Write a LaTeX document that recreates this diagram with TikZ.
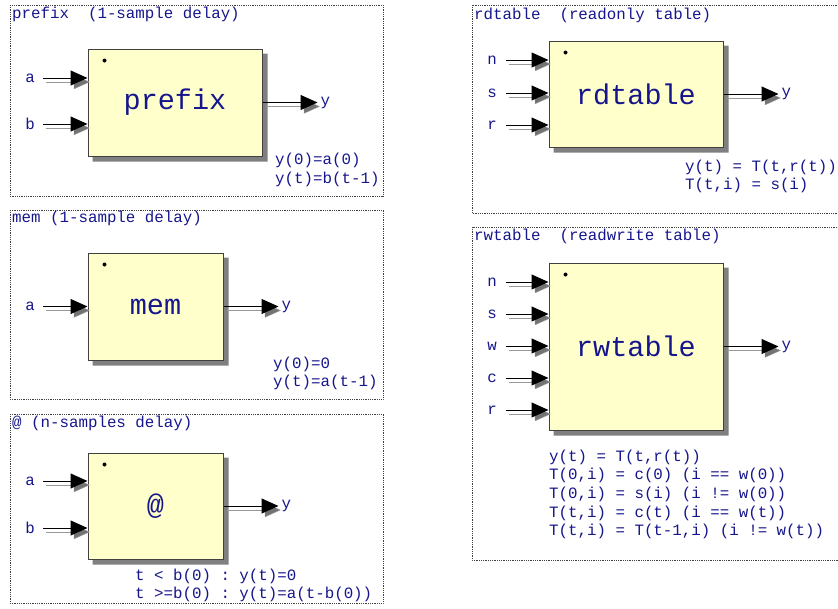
\documentclass[tikz,border=0pt]{standalone}
\usepackage{fontspec}
\setmonofont{Liberation Mono}
\usetikzlibrary{positioning,arrows.meta}
\definecolor{ink}{RGB}{22,22,140}
\definecolor{boxfill}{RGB}{255,255,204}
\tikzset{
	frame/.style={draw=black!75, densely dotted, line width=0.8pt},
	blk/.style={draw=black!75, line width=1pt, fill=boxfill, text=ink, font=\fontsize{28.5}{30}\ttfamily},
	boxshade/.style={fill=gray},
	txt/.style={font=\fontsize{15.8}{18.7}\ttfamily, text=ink, inner sep=0pt, anchor=west, align=left},
	lbl/.style={txt, anchor=center},
	sig/.style={line width=1pt, -{Triangle[length=17pt,width=15pt]},
		preaction={draw=black!40, -{Triangle[length=17pt,width=15pt,fill=black!55]}, transform canvas={shift={(3pt,-4pt)}}}},
	pin/.style={fill=black, circle, inner sep=0pt, minimum size=4pt},
}
\begin{document}
\begin{tikzpicture}[x=1pt, y=-1pt]
	\useasboundingbox (0,0) rectangle (838,608);

	% prefix
	\draw[frame] (10,5) rectangle (383,196);
	\node[txt] (t1) at (12,14) {prefix~~(1-sample delay)};
	\node[blk, minimum width=174pt, minimum height=107pt] (b1) at (175,102.5) {prefix};
	\fill[boxshade] ([shift={(0.5pt,-5pt)}]b1.north east) -| ([shift={(5pt,-5pt)}]b1.south east) -| ([shift={(5pt,-0.5pt)}]b1.south west) -- ([shift={(0.5pt,-0.5pt)}]b1.south east) -- cycle;
	\node[pin] (d1) at ([xshift=17pt,yshift=-12pt]b1.north west) {};
	\node[lbl] (a1) at (30,78) {a};
	\node[lbl] (c1) at (30,124) {b};
	\foreach \i in {a1,c1}
		\draw[sig] ([xshift=8pt]\i.east) -- (\i -| b1.west);
	\node[lbl, right=58pt of b1] (y1) {y};
	\draw[sig] (b1.east) -- ([xshift=-3pt]y1.west);
	\node[txt] (e1) at (275,170) {y(0)=a(0)\\y(t)=b(t-1)};

	% mem
	\draw[frame] (10,210) rectangle (383,399);
	\node[txt] (t2) at (12,218) {mem (1-sample delay)};
	\node[blk, minimum width=135pt, minimum height=107pt] (b2) at (155.5,306.5) {mem};
	\fill[boxshade] ([shift={(0.5pt,-5pt)}]b2.north east) -| ([shift={(5pt,-5pt)}]b2.south east) -| ([shift={(5pt,-0.5pt)}]b2.south west) -- ([shift={(0.5pt,-0.5pt)}]b2.south east) -- cycle;
	\node[pin] (d2) at ([xshift=17pt,yshift=-12pt]b2.north west) {};
	\node[lbl] (a2) at (30,306.5) {a};
	\draw[sig] ([xshift=8pt]a2.east) -- (b2.west);
	\node[lbl, right=58pt of b2] (y2) {y};
	\draw[sig] (b2.east) -- ([xshift=-3pt]y2.west);
	\node[txt] (e2) at (273,373.5) {y(0)=0\\y(t)=a(t-1)};

	% @
	\draw[frame] (10,414) rectangle (383,603);
	\node[txt] (t3) at (12,423) {@ (n-samples delay)};
	\node[blk, minimum width=135pt, minimum height=106pt] (b3) at (155.5,506) {@};
	\fill[boxshade] ([shift={(0.5pt,-5pt)}]b3.north east) -| ([shift={(5pt,-5pt)}]b3.south east) -| ([shift={(5pt,-0.5pt)}]b3.south west) -- ([shift={(0.5pt,-0.5pt)}]b3.south east) -- cycle;
	\node[pin] (d3) at ([xshift=17pt,yshift=-12pt]b3.north west) {};
	\node[lbl] (a3) at (30,481) {a};
	\node[lbl] (c3) at (30,528) {b};
	\foreach \i in {a3,c3}
		\draw[sig] ([xshift=8pt]\i.east) -- (\i -| b3.west);
	\node[lbl, right=58pt of b3] (y3) {y};
	\draw[sig] (b3.east) -- ([xshift=-3pt]y3.west);
	\node[txt] (e3) at (135,585.5) {t < b(0) : y(t)=0\\t >=b(0) : y(t)=a(t-b(0))};

	% rdtable
	\draw[frame] (472,5) rectangle (839,213);
	\node[txt] (t4) at (474,15) {rdtable~~(readonly table)};
	\node[blk, minimum width=174pt, minimum height=106pt] (b4) at (636,94) {rdtable};
	\fill[boxshade] ([shift={(0.5pt,-5pt)}]b4.north east) -| ([shift={(5pt,-5pt)}]b4.south east) -| ([shift={(5pt,-0.5pt)}]b4.south west) -- ([shift={(0.5pt,-0.5pt)}]b4.south east) -- cycle;
	\node[pin] (d4) at ([xshift=17pt,yshift=-12pt]b4.north west) {};
	\foreach \n/\y in {n/60, s/93, r/125} {
		\node[lbl] (rd\n) at (492,\y) {\n};
		\draw[sig] ([xshift=9pt]rd\n.east) -- (rd\n -| b4.west);
	}
	\node[lbl, right=58pt of b4] (y4) {y};
	\draw[sig] (b4.east) -- ([xshift=-3pt]y4.west);
	\node[txt] (e4) at (685,176.5) {y(t) = T(t,r(t))\\T(t,i) = s(i)};

	% rwtable
	\draw[frame] (472,227) rectangle (839,560);
	\node[txt] (t5) at (474,236) {rwtable~~(readwrite table)};
	\node[blk, minimum width=174pt, minimum height=167pt] (b5) at (636,346.5) {rwtable};
	\fill[boxshade] ([shift={(0.5pt,-5pt)}]b5.north east) -| ([shift={(5pt,-5pt)}]b5.south east) -| ([shift={(5pt,-0.5pt)}]b5.south west) -- ([shift={(0.5pt,-0.5pt)}]b5.south east) -- cycle;
	\node[pin] (d5) at ([xshift=17pt,yshift=-12pt]b5.north west) {};
	\foreach \n/\y in {n/282, s/314, w/346, c/378, r/410} {
		\node[lbl] (rw\n) at (492,\y) {\n};
		\draw[sig] ([xshift=9pt]rw\n.east) -- (rw\n -| b5.west);
	}
	\node[lbl, right=58pt of b5] (y5) {y};
	\draw[sig] (b5.east) -- ([xshift=-3pt]y5.west);
	\node[txt] (e5) at (549,494.5) {y(t) = T(t,r(t))\\T(0,i) = c(0) (i == w(0))\\T(0,i) = s(i) (i != w(0))\\T(t,i) = c(t) (i == w(t))\\T(t,i) = T(t-1,i) (i != w(t))};
\end{tikzpicture}
\end{document}
